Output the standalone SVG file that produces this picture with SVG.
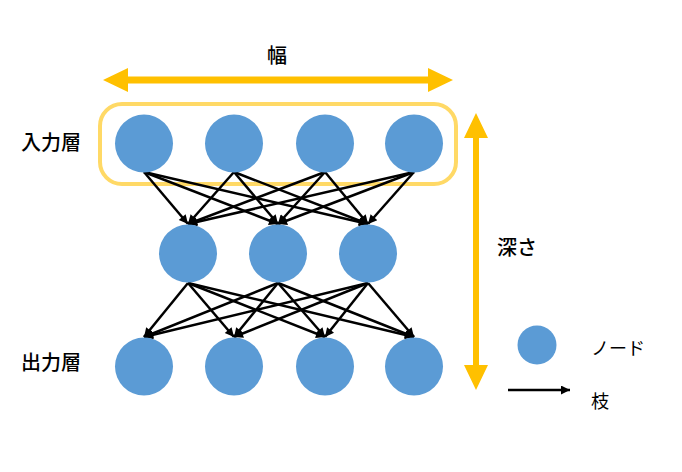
<svg xmlns="http://www.w3.org/2000/svg" width="682" height="472" viewBox="0 0 682 472">
<style>
.node{fill:#5B9BD5}
.edge{stroke:#000;stroke-width:2.5;fill:none;marker-end:url(#ah)}
.lbl{font-family:"Noto Sans CJK JP","Noto Sans",sans-serif;font-size:20px;font-weight:500;fill:#000}
.sm{font-size:18px;font-weight:normal}
.big{fill:#FFC000}
</style>
<defs>
<marker id="ah" viewBox="0 0 10 10" refX="10" refY="5" markerWidth="11" markerHeight="9" markerUnits="userSpaceOnUse" orient="auto">
<path d="M0,0 L10,5 L0,10 Z" fill="#000"/>
</marker>
</defs>
<rect x="100" y="104" width="356" height="80" rx="22" fill="none" stroke="#FFD966" stroke-width="4"/>
<g id="width-arrow">
<polygon class="big" points="103,80 128,68 128,76.5 428,76.5 428,68 453,80 428,92 428,83.5 128,83.5 128,92"/>
<text class="lbl" x="277" y="63" text-anchor="middle">幅</text>
</g>
<g id="depth-arrow">
<polygon class="big" points="476,113 488,138 479,138 479,365 488,365 476,390 464,365 473,365 473,138 464,138"/>
<text class="lbl" x="497" y="255">深さ</text>
</g>
<g id="edges">
<line class="edge" x1="144" y1="172" x2="188" y2="224"/>
<line class="edge" x1="144" y1="172" x2="278" y2="224"/>
<line class="edge" x1="144" y1="172" x2="368" y2="224"/>
<line class="edge" x1="234" y1="172" x2="188" y2="224"/>
<line class="edge" x1="234" y1="172" x2="278" y2="224"/>
<line class="edge" x1="234" y1="172" x2="368" y2="224"/>
<line class="edge" x1="325" y1="172" x2="188" y2="224"/>
<line class="edge" x1="325" y1="172" x2="278" y2="224"/>
<line class="edge" x1="325" y1="172" x2="368" y2="224"/>
<line class="edge" x1="414" y1="172" x2="188" y2="224"/>
<line class="edge" x1="414" y1="172" x2="278" y2="224"/>
<line class="edge" x1="414" y1="172" x2="368" y2="224"/>
<line class="edge" x1="188" y1="283" x2="144" y2="337"/>
<line class="edge" x1="188" y1="283" x2="234" y2="337"/>
<line class="edge" x1="188" y1="283" x2="325" y2="337"/>
<line class="edge" x1="188" y1="283" x2="414" y2="337"/>
<line class="edge" x1="278" y1="283" x2="144" y2="337"/>
<line class="edge" x1="278" y1="283" x2="234" y2="337"/>
<line class="edge" x1="278" y1="283" x2="325" y2="337"/>
<line class="edge" x1="278" y1="283" x2="414" y2="337"/>
<line class="edge" x1="368" y1="283" x2="144" y2="337"/>
<line class="edge" x1="368" y1="283" x2="234" y2="337"/>
<line class="edge" x1="368" y1="283" x2="325" y2="337"/>
<line class="edge" x1="368" y1="283" x2="414" y2="337"/>
</g>
<g id="in1"><circle class="node" cx="144" cy="143.5" r="29"/></g>
<g id="in2"><circle class="node" cx="234" cy="143.5" r="29"/></g>
<g id="in3"><circle class="node" cx="325" cy="143.5" r="29"/></g>
<g id="in4"><circle class="node" cx="414" cy="143.5" r="29"/></g>
<g id="h1"><circle class="node" cx="188" cy="253.5" r="29"/></g>
<g id="h2"><circle class="node" cx="278" cy="253.5" r="29"/></g>
<g id="h3"><circle class="node" cx="368" cy="253.5" r="29"/></g>
<g id="out1"><circle class="node" cx="144" cy="366.5" r="29"/></g>
<g id="out2"><circle class="node" cx="234" cy="366.5" r="29"/></g>
<g id="out3"><circle class="node" cx="325" cy="366.5" r="29"/></g>
<g id="out4"><circle class="node" cx="414" cy="366.5" r="29"/></g>
<g id="layer-labels">
<text class="lbl" x="21" y="150">入力層</text>
<text class="lbl" x="21" y="370">出力層</text>
</g>
<g id="legend">
<circle class="node" cx="537" cy="345" r="19.5"/>
<text class="lbl sm" x="591" y="355">ノード</text>
<line x1="508" y1="390" x2="570" y2="390" stroke="#000" stroke-width="2.5" marker-end="url(#ah)"/>
<text class="lbl sm" x="591" y="408">枝</text>
</g>
</svg>
